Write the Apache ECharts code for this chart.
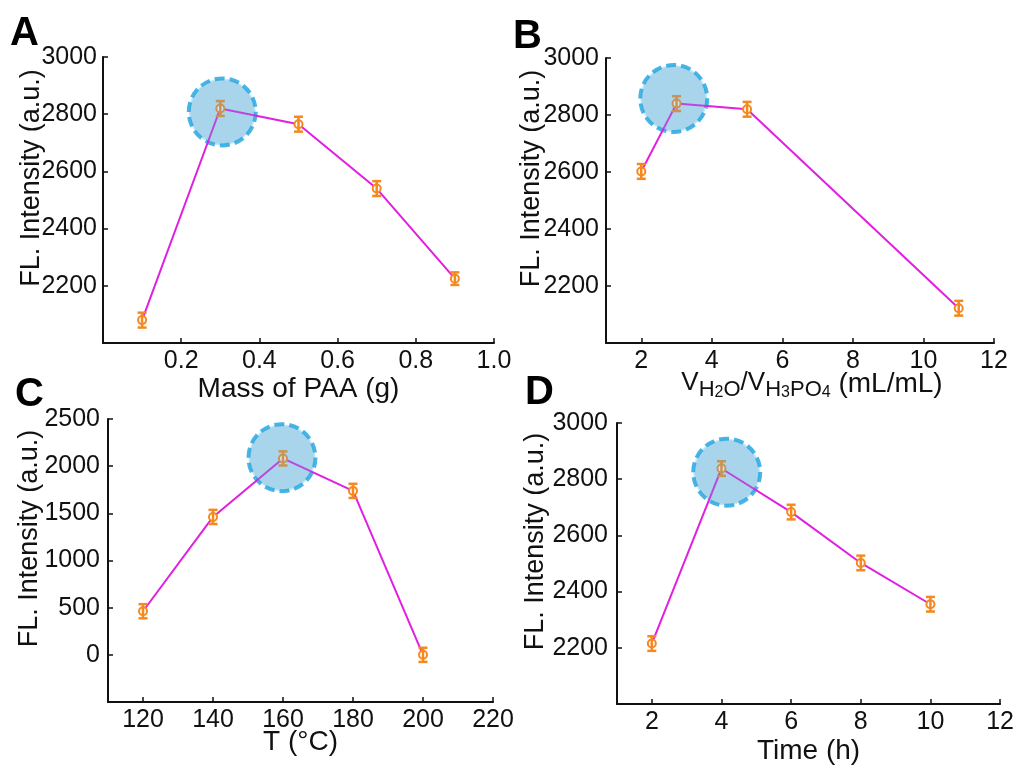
<!DOCTYPE html>
<html>
<head>
<meta charset="utf-8">
<script src="https://cdn.jsdelivr.net/npm/echarts@6/dist/echarts.min.js"></script>
<style>
  html, body { margin: 0; padding: 0; background: #fff; }
  #main { width: 1017px; height: 766px; }
</style>
</head>
<body>
<div id="main"></div>
<script>
// Panel A: mass of PAA
const massPAA = [0.1, 0.3, 0.5, 0.7, 0.9];
const intensityA = [2080, 2820, 2765, 2540, 2225];
const errA = [26, 26, 26, 26, 22];
const peakA = [0.305, 2808];

// Panel B: volume ratio of water to phosphoric acid
const ratioB = [2, 3, 5, 11];
const intensityB = [2602, 2840, 2820, 2122];
const errB = [26, 26, 26, 26];
const peakB = [2.92, 2858];

// Panel C: temperature
const tempC = [120, 140, 160, 180, 200];
const intensityC = [462, 1462, 2082, 1738, 0];
const errC = [75, 75, 75, 75, 75];
const peakC = [159.7, 2090];

// Panel D: reaction time
const timeD = [2, 4, 6, 8, 10];
const intensityD = [2215, 2838, 2683, 2502, 2355];
const errD = [26, 26, 26, 26, 26];
const peakD = [4.15, 2825];

const ticksA = [0.2, 0.4, 0.6, 0.8, 1.0];
const ticksB = [2, 4, 6, 8, 10, 12];
const ticksC = [120, 140, 160, 180, 200, 220];
const ticksD = [2, 4, 6, 8, 10, 12];

const FONT = 'Liberation Sans, Arial, sans-serif';
const INK = '#111';
const ORANGE = '#f5891f';
const MAGENTA = '#e11fe0';
const TICK_FS = 25;
const XNAME_FS = 28;
const YNAME_FS = 27;

const chart = echarts.init(document.getElementById('main'), null, { renderer: 'canvas' });

const grids = [
  { left: 103, right: 523, top: 57, bottom: 423 },
  { left: 606, right: 23, top: 58, bottom: 423 },
  { left: 108, right: 524, top: 419, bottom: 64 },
  { left: 617, right: 16, top: 423, bottom: 61 }
];

function xAxisOf(i, min, max, ticks, name, gap) {
  return {
    type: 'value', gridIndex: i, min: min, max: max,
    splitLine: { show: false },
    axisLine: { onZero: false, lineStyle: { color: INK, width: 2 } },
    axisTick: { inside: true, length: 5, lineStyle: { color: INK, width: 1.5 }, customValues: ticks },
    axisLabel: {
      color: INK, fontSize: TICK_FS, fontFamily: FONT, margin: 6, customValues: ticks,
      formatter: v => (ticks === ticksA ? v.toFixed(1) : String(v))
    },
    name: name, nameLocation: 'middle', nameGap: gap, nameMoveOverlap: false,
    nameTextStyle: { color: INK, fontSize: XNAME_FS, fontFamily: FONT }
  };
}

function yAxisOf(i, min, max, interval, gap, margin) {
  return {
    type: 'value', gridIndex: i, min: min, max: max, interval: interval,
    splitLine: { show: false },
    axisLine: { show: true, onZero: false, lineStyle: { color: INK, width: 2 } },
    axisTick: { show: true, inside: true, length: 5, lineStyle: { color: INK, width: 1.5 } },
    axisLabel: {
      color: INK, fontSize: TICK_FS, fontFamily: FONT, margin: margin, showMinLabel: false,
      formatter: v => String(v)
    },
    name: 'FL. Intensity (a.u.)', nameLocation: 'middle', nameGap: gap, nameMoveOverlap: false,
    nameTextStyle: { color: INK, fontSize: YNAME_FS, fontFamily: FONT, padding: [0, 0, 0, 44] }
  };
}

const xAxes = [
  xAxisOf(0, 0, 1.0, ticksA, 'Mass of PAA (g)', 32),
  xAxisOf(1, 1, 12, ticksB, '{v|V}{s|H}{d|2}{s|O}{v|/V}{s|H}{d|3}{s|PO}{d|4}{p| (mL/mL)}', 28),
  xAxisOf(2, 110, 220, ticksC, 'T (\u00B0C)', 26),
  xAxisOf(3, 1, 12, ticksD, 'Time (h)', 33)
];
// subscripted axis title: tokens share a bottom edge, raised by bottom padding
xAxes[1].nameTextStyle.rich = {
  v: { fontSize: 26, fontFamily: FONT, color: INK, lineHeight: 30, verticalAlign: 'bottom', padding: [0, 0, 5, 0] },
  s: { fontSize: 22, fontFamily: FONT, color: INK, lineHeight: 30, verticalAlign: 'bottom', padding: [0, 0, 0, 0] },
  d: { fontSize: 16, fontFamily: FONT, color: INK, lineHeight: 30, verticalAlign: 'bottom', padding: [0, 0, 0, 0] },
  p: { fontSize: 28, fontFamily: FONT, color: INK, lineHeight: 30, verticalAlign: 'bottom', padding: [0, 0, 3, 0] }
};
xAxes[1].nameTextStyle.padding = [0, 0, 0, 24];

const yAxes = [
  yAxisOf(0, 2000, 3000, 200, 58, 6),
  yAxisOf(1, 2000, 3000, 200, 61, 7),
  yAxisOf(2, -500, 2500, 500, 65, 8),
  yAxisOf(3, 2000, 3000, 200, 68, 9)
];

const panels = [
  [massPAA, intensityA, errA, peakA],
  [ratioB, intensityB, errB, peakB],
  [tempC, intensityC, errC, peakC],
  [timeD, intensityD, errD, peakD]
];

const series = [];
panels.forEach(([xs, ys, errs, peak], i) => {
  // highlight disc around the optimum condition
  series.push({
    type: 'scatter', xAxisIndex: i, yAxisIndex: i, z: 1,
    symbol: 'circle', symbolSize: 67, silent: true,
    itemStyle: {
      color: 'rgba(120,200,236,0.55)', borderColor: '#1ba3df', borderWidth: 4,
      borderType: [10, 5]
    },
    data: [peak]
  });
  // connecting line and point markers
  series.push({
    type: 'line', xAxisIndex: i, yAxisIndex: i, z: 2,
    symbol: 'emptyCircle', symbolSize: 8,
    lineStyle: { color: MAGENTA, width: 2 },
    itemStyle: { color: ORANGE, borderColor: ORANGE, borderWidth: 3.5 },
    data: xs.map((x, k) => [x, ys[k]])
  });
  // error bars
  series.push({
    type: 'custom', xAxisIndex: i, yAxisIndex: i, z: 3,
    renderItem: function (params, api) {
      const x = api.value(0), y = api.value(1), e = api.value(2);
      const top = api.coord([x, y + e]);
      const bot = api.coord([x, y - e]);
      const w = 4.5;
      const st = { stroke: ORANGE, lineWidth: 2.5 };
      return {
        type: 'group',
        children: [
          { type: 'line', shape: { x1: top[0], y1: top[1], x2: bot[0], y2: bot[1] }, style: st },
          { type: 'line', shape: { x1: top[0] - w, y1: top[1], x2: top[0] + w, y2: top[1] }, style: st },
          { type: 'line', shape: { x1: bot[0] - w, y1: bot[1], x2: bot[0] + w, y2: bot[1] }, style: st }
        ]
      };
    },
    data: xs.map((x, k) => [x, ys[k], errs[k]])
  });
});

// tint over the peak marker, as seen through the translucent disc
panels.forEach(([xs, ys, errs, peak], i) => {
  series.push({
    type: 'scatter', xAxisIndex: i, yAxisIndex: i, z: 4,
    symbol: 'circle', symbolSize: 64, silent: true,
    itemStyle: { color: 'rgba(100,170,210,0.36)', borderWidth: 0 },
    data: [peak]
  });
});

const letterStyle = { fontSize: 40, fontWeight: 'bold', fontFamily: FONT, color: '#000' };

chart.setOption({
  animation: false,
  backgroundColor: '#fff',
  title: [
    { text: 'A', left: 10, top: 14, textStyle: letterStyle, padding: 0 },
    { text: 'B', left: 513, top: 17, textStyle: letterStyle, padding: 0 },
    { text: 'C', left: 15, top: 375, textStyle: letterStyle, padding: 0 },
    { text: 'D', left: 525, top: 373, textStyle: letterStyle, padding: 0 }
  ],
  grid: grids,
  xAxis: xAxes,
  yAxis: yAxes,
  series: series
});
</script>
</body>
</html>
